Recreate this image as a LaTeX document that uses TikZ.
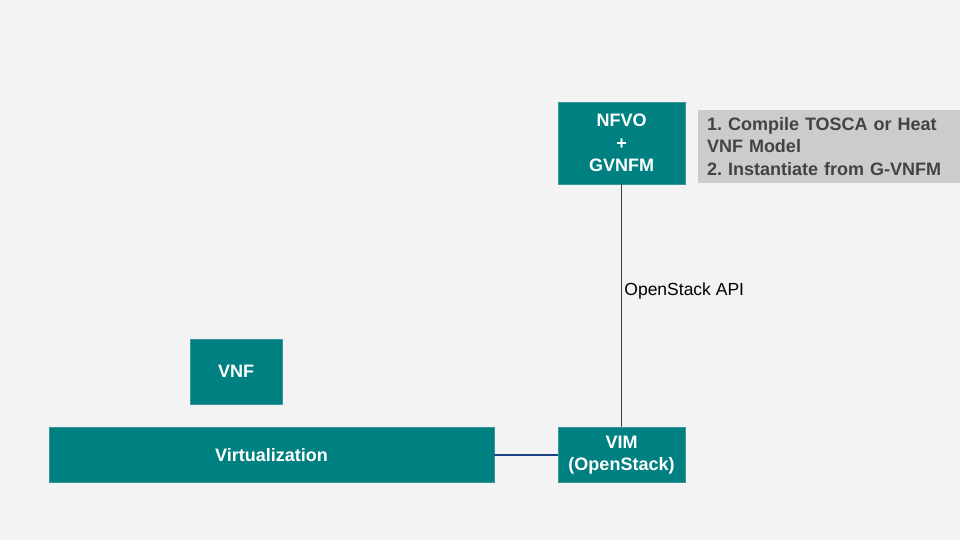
\documentclass[tikz,border=0pt]{standalone}
\usepackage{fontspec}
\setmainfont{Liberation Sans}
\usetikzlibrary{arrows.meta}
\frenchspacing

\definecolor{bgcol}{HTML}{F3F3F3}
\definecolor{tealbox}{HTML}{008080}
\definecolor{notegray}{HTML}{CCCCCC}
\definecolor{notetext}{HTML}{434343}
\definecolor{linkblue}{HTML}{1C4587}

\begin{document}
\begin{tikzpicture}[x=1pt,y=-1pt,
    block/.style={fill=tealbox,draw=tealbox!80!white,line width=0.4pt,text=white,
        font=\bfseries\fontsize{18}{22.5}\selectfont,align=center,inner sep=0pt},
    note/.style={fill=notegray,text=notetext,font=\bfseries\fontsize{18}{22.5}\selectfont,
        align=left,inner xsep=9pt,inner ysep=0pt,text width=244pt},
    apilabel/.style={font=\fontsize{17.5}{20}\selectfont,text=black,inner sep=0pt}]
            \useasboundingbox (0,0) rectangle (960,540);
            \fill[bgcol] (0,0) rectangle (960,540);
            \node[block,minimum width=127pt,minimum height=82pt] (nfvo) at (621.5,143) {NFVO\\+\\GVNFM};
            \node[note,minimum width=262pt,minimum height=73pt] (steps) at (829,146.5) {1. Compile TOSCA or Heat VNF Model\\2. Instantiate from G-VNFM};
            \node[block,minimum width=92pt,minimum height=65pt] (vnf) at (236,371.5) {VNF};
            \node[block,minimum width=445pt,minimum height=55pt] (virt) at (271.5,455) {Virtualization};
            \node[block,minimum width=127pt,minimum height=55pt] (vim) at (621.5,455) {VIM\\(OpenStack)};
            \draw[black!75,line width=0.8pt] (nfvo.south) -- (vim.north)
                node[apilabel,pos=0.44,anchor=west,xshift=2.5pt] (api) {OpenStack API};
            \draw[linkblue,line width=1.8pt] (virt.east) -- (vim.west);
        \end{tikzpicture}
\end{document}
